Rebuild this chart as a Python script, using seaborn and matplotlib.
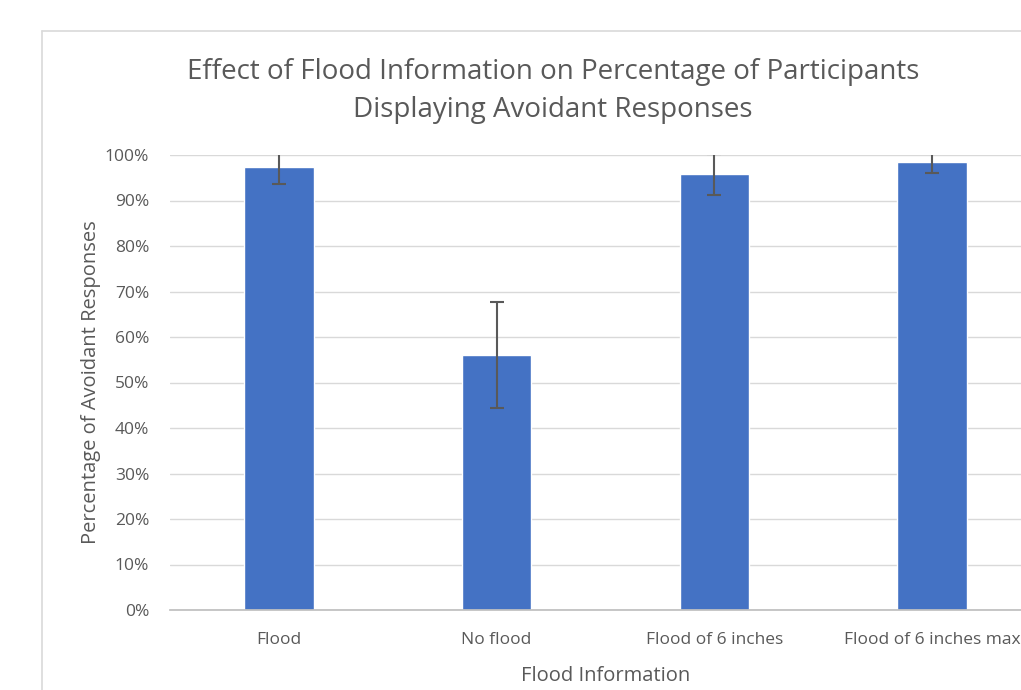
import matplotlib
matplotlib.use("Agg")
import matplotlib.pyplot as plt
from matplotlib.lines import Line2D
from matplotlib.ticker import PercentFormatter
import seaborn as sns
import pandas as pd

# ---- data ----
conditions = ["Flood", "No flood", "Flood of 6 inches", "Flood of 6 inches max"]
pct_avoidant = [0.973, 0.560, 0.958, 0.985]
err = [0.037, 0.116, 0.045, 0.025]

df = pd.DataFrame({"condition": conditions, "pct": pct_avoidant})

sns.set_theme(style="white")
plt.rcParams["font.family"] = ["Open Sans", "DejaVu Sans"]
grey = "#595959"

fig = plt.figure(figsize=(10.21, 6.9), dpi=100)
# plot area runs off the right edge like the cropped screenshot
ax = fig.add_axes([170 / 1021, 1 - 610 / 690, (1041 - 170) / 1021, (610 - 155) / 690])

sns.barplot(data=df, x="condition", y="pct", color="#4472C4", saturation=1,
            width=0.32, errorbar=None, ax=ax)
ax.errorbar(range(len(conditions)), pct_avoidant, yerr=err, fmt="none",
            ecolor=grey, elinewidth=1.5, capsize=5, capthick=1.5, zorder=3)

ax.set_xlim(-0.5, 3.5)
ax.set_ylim(0, 1)
ax.set_yticks([i / 10 for i in range(11)])
ax.yaxis.set_major_formatter(PercentFormatter(1, decimals=0))
ax.grid(axis="y", color="#d9d9d9", linewidth=1)
ax.set_axisbelow(True)
for s in ["top", "right", "left"]:
    ax.spines[s].set_visible(False)
ax.spines["bottom"].set_color("#bfbfbf")
ax.tick_params(axis="both", length=0, labelsize=12.5, labelcolor=grey)
ax.tick_params(axis="x", pad=16)
ax.tick_params(axis="y", pad=15)

ax.set_xlabel("Flood Information", fontsize=14.5, color=grey, labelpad=13)
ax.set_ylabel("Percentage of Avoidant Responses", fontsize=14.5, color=grey, labelpad=3)

fig.text(553 / 1021, 1 - 91 / 690,
         "Effect of Flood Information on Percentage of Participants\nDisplaying Avoidant Responses",
         ha="center", va="center", fontsize=20, color=grey, linespacing=1.45)

# chart area border (partially visible)
fig.add_artist(Line2D([42 / 1021, 42 / 1021], [0, 1 - 31 / 690], transform=fig.transFigure,
                      color="#d9d9d9", linewidth=1.2))
fig.add_artist(Line2D([42 / 1021, 1], [1 - 31 / 690, 1 - 31 / 690], transform=fig.transFigure,
                      color="#d9d9d9", linewidth=1.2))

fig.savefig("out.png", dpi=100)
